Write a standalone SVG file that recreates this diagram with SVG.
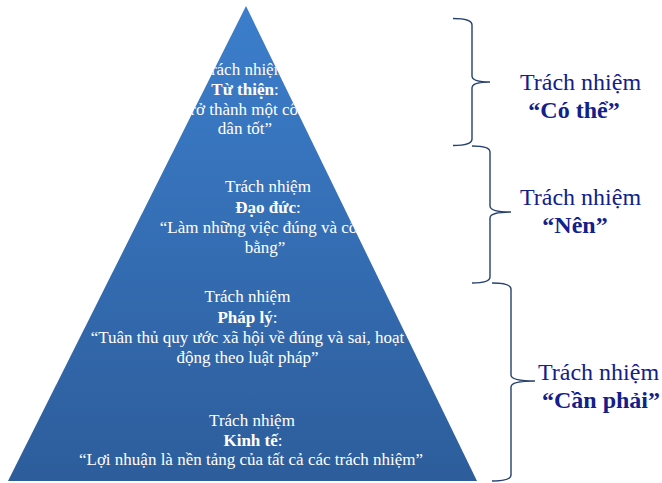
<svg xmlns="http://www.w3.org/2000/svg" width="662" height="483" viewBox="0 0 662 483">
<style>
.pt{font-family:'Liberation Serif','Times New Roman',serif;font-size:17px;fill:#ffffff;text-anchor:middle}
.b{font-weight:bold}
.lab{font-family:'Liberation Serif','Times New Roman',serif;font-size:24px;fill:#12208a}
.labb{font-family:'Liberation Serif','Times New Roman',serif;font-size:24px;font-weight:bold;fill:#12208a;text-anchor:middle}
.brace{fill:none;stroke:#27416f;stroke-width:1.4}
</style>
<defs>
<linearGradient id="g" x1="0" y1="0" x2="0" y2="1">
<stop offset="0" stop-color="#3c7ecc"/>
<stop offset="1" stop-color="#2d5d9b"/>
</linearGradient>
<clipPath id="tri"><polygon points="246,6 8,481 477,481"/></clipPath>
</defs>
<g id="pyramid">
<polygon points="246,6 8,481 477,481" fill="url(#g)"/>
</g>
<g clip-path="url(#tri)" font-family="Liberation Serif">
<g id="tu-thien">
<text class="pt" x="244" y="75">Trách nhiệm</text>
<text class="pt" x="245" y="95"><tspan class="b">Từ thiện</tspan>:</text>
<text class="pt" x="244" y="115">“Trở thành một công</text>
<text class="pt" x="245" y="134">dân tốt”</text>
</g>
<g id="dao-duc">
<text class="pt" x="268" y="192">Trách nhiệm</text>
<text class="pt" x="268" y="213"><tspan class="b">Đạo đức</tspan>:</text>
<text class="pt" x="267" y="233">“Làm những việc đúng và công</text>
<text class="pt" x="265" y="253">bằng”</text>
</g>
<g id="phap-ly">
<text class="pt" x="247.5" y="302">Trách nhiệm</text>
<text class="pt" x="247.5" y="323"><tspan class="b">Pháp lý</tspan>:</text>
<text class="pt" x="247.5" y="343">“Tuân thủ quy ước xã hội về đúng và sai, hoạt</text>
<text class="pt" x="247.5" y="363">động theo luật pháp”</text>
</g>
<g id="kinh-te">
<text class="pt" x="252" y="426">Trách nhiệm</text>
<text class="pt" x="253" y="446"><tspan class="b">Kinh tế</tspan>:</text>
<text class="pt" x="251" y="465">“Lợi nhuận là nền tảng của tất cả các trách nhiệm”</text>
</g>
</g>
<g id="connectors">
<path class="brace" d="M453,18.5 Q472,18.5 472,25 L472,76 Q472,82 490,82 Q472,82 472,88 L472,139 Q472,145.5 453,145.5"/>
<path class="brace" d="M472,146 Q490,146 490,152 L490,206 Q490,212 511,212 Q490,212 490,218 L490,277 Q490,283 472,283"/>
<path class="brace" d="M492,283 Q511,283 511,289 L511,375 Q511,381 535,381 Q511,381 511,387 L511,475 Q511,481 492,481"/>
</g>
<g id="label-co-the" font-family="Liberation Serif">
<text class="lab" x="520" y="90">Trách nhiệm</text>
<text class="labb" x="574" y="118">“Có thể”</text>
</g>
<g id="label-nen" font-family="Liberation Serif">
<text class="lab" x="520" y="205">Trách nhiệm</text>
<text class="labb" x="575" y="233">“Nên”</text>
</g>
<g id="label-can-phai" font-family="Liberation Serif">
<text class="lab" x="538" y="380">Trách nhiệm</text>
<text class="labb" x="601" y="408">“Cần phải”</text>
</g>
</svg>
